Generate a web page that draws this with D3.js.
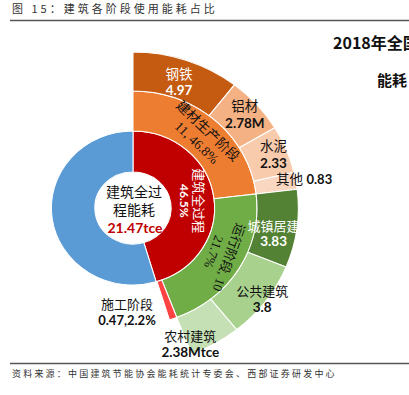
<!DOCTYPE html>
<html><head><meta charset="utf-8">
<script src="https://cdn.jsdelivr.net/npm/d3@7"></script>
<style>body{margin:0;background:#fff;overflow:hidden}svg{display:block}</style>
</head><body>
<svg id="chart" width="409" height="395"></svg>
<script>
// ---------- data ----------
const innerNames  = ["建筑全过程", "其余"];
const innerValues = [21.47, 25.8];
const innerShare  = ["46.5%", ""];

const stageNames  = ["建材生产阶段", "运行阶段", "施工阶段"];
const stageValues = [10.91, 10.01, 0.47];
const stageTexts  = ["11, 46.8%", "10", "0.47,2.2%"];
const stageShares = ["46.8%", "21.7%", "2.2%"];

const materialNames  = ["钢铁", "铝材", "水泥", "其他"];
const materialValues = [4.97, 2.78, 2.33, 0.83];
const materialTexts  = ["4.97", "2.78M", "2.33", "0.83"];

const operationNames  = ["城镇居建", "公共建筑", "农村建筑"];
const operationValues = [3.83, 3.8, 2.38];
const operationTexts  = ["3.83", "3.8", "2.38Mtce"];

const totalText = "21.47tce";

// ---------- layout ----------
const svg = d3.select("#chart");
const cx = 133, cy = 208, sx = 1.06;
const R0 = 36, R1 = 77, R2 = 117, R3 = 156;
const total = d3.sum(innerValues);
const ang = d3.scaleLinear().domain([0, total]).range([0, 2 * Math.PI]);

const CJK = "'Noto Sans CJK SC', sans-serif";
const SERIF = "'Liberation Serif', 'Noto Sans CJK SC', serif";
const NUM = "Lato, 'Open Sans', sans-serif";

// title and rules
svg.append("text").attr("x", 12).attr("y", 13).attr("font-family", CJK)
  .attr("font-size", 11).attr("letter-spacing", 3).attr("fill", "#333")
  .text("图 15：建筑各阶段使用能耗占比");
svg.append("line").attr("x1", 10).attr("x2", 409).attr("y1", 20.5).attr("y2", 20.5)
  .attr("stroke", "#555").attr("stroke-width", 1.3);
svg.append("line").attr("x1", 10).attr("x2", 409).attr("y1", 363.5).attr("y2", 363.5)
  .attr("stroke", "#555").attr("stroke-width", 1.3);
svg.append("text").attr("x", 12).attr("y", 377).attr("font-family", CJK)
  .attr("font-size", 9).attr("letter-spacing", 2.2).attr("fill", "#333")
  .text("资料来源：中国建筑节能协会能耗统计专委会、西部证券研发中心");
svg.append("text").attr("x", 333).attr("y", 49).attr("font-family", CJK)
  .attr("font-size", 16).attr("font-weight", 700).attr("fill", "#111")
  .text("2018年全国");
svg.append("text").attr("x", 377).attr("y", 86).attr("font-family", SERIF)
  .attr("font-size", 15).attr("font-weight", 700).attr("fill", "#111")
  .text("能耗");

// ---------- arcs ----------
function segs(values, names, colors, start) {
  let acc = start || 0;
  return values.map((v, i) => {
    const s = acc; acc += v;
    return {name: names[i], value: v, start: s, end: acc, color: colors[i]};
  });
}
const innerSegs = segs(innerValues, innerNames, ["#C00000", "#5B9BD5"]);
const stageSegs = segs(stageValues, stageNames, ["#ED7D31", "#70AD47", "#FF4343"]);
const matSegs = segs(materialValues, materialNames, ["#C55A11", "#F4B183", "#F8CBAD", "#F9D7C0"], 0);
const opSegs = segs(operationValues, operationNames, ["#548235", "#A9D18E", "#C5E0B4"], d3.sum(materialValues));

const g = svg.append("g").attr("transform", `translate(${cx},${cy}) scale(${sx},1)`);
function ring(data, r0, r1) {
  const arc = d3.arc().innerRadius(r0).outerRadius(r1)
    .startAngle(d => ang(d.start)).endAngle(d => ang(d.end));
  g.selectAll(null).data(data).enter().append("path")
    .attr("d", arc).attr("fill", d => d.color)
    .attr("stroke", "#fff").attr("stroke-width", 1);
}
ring(innerSegs, R0, R1);
ring(stageSegs, R1, R2);
ring(matSegs, R2, R3);
ring(opSegs, R2, R3);

// ---------- labels ----------
function polar(aDeg, r) {
  const a = aDeg * Math.PI / 180;
  return [cx + sx * r * Math.sin(a), cy - r * Math.cos(a)];
}
const midDeg = d => (ang((d.start + d.end) / 2)) * 180 / Math.PI;

function label(seg, dA, r, rot, lines) {
  const [x, y] = polar(midDeg(seg) + dA, r);
  const t = svg.append("g").attr("transform", `translate(${x},${y}) rotate(${rot})`);
  lines.forEach(l => {
    const tx = t.append("text").attr("text-anchor", "middle").attr("dominant-baseline", "central")
      .attr("y", l.dy).attr("fill", l.color);
    l.parts.forEach(p => tx.append("tspan").attr("font-family", p.font).attr("font-size", p.size)
      .attr("font-weight", p.weight || 400).text(p.text));
  });
}
const P = (text, font, size, weight) => ({text, font, size, weight});

// center
const cg = svg.append("g").attr("text-anchor", "middle");
cg.append("text").attr("x", cx + 1).attr("y", cy - 16).attr("dominant-baseline", "central")
  .attr("font-family", SERIF).attr("font-size", 14).attr("fill", "#111").text("建筑全过");
cg.append("text").attr("x", cx + 1).attr("y", cy + 2).attr("dominant-baseline", "central")
  .attr("font-family", SERIF).attr("font-size", 14).attr("fill", "#111").text("程能耗");
cg.append("text").attr("x", cx + 2).attr("y", cy + 19).attr("dominant-baseline", "central")
  .attr("font-family", NUM).attr("font-size", 14).attr("font-weight", 700).attr("fill", "#C00000").text(totalText);

// inner red
label(innerSegs[0], 1, 57, 90, [
  {dy: -7, color: "#fff", parts: [P(innerNames[0], CJK, 13)]},
  {dy: 8, color: "#fff", parts: [P(innerShare[0], NUM, 12, 700)]}
]);
// stages
label(stageSegs[0], 1, 97, 43.5, [
  {dy: -8, color: "#111", parts: [P(stageNames[0], SERIF, 13.5)]},
  {dy: 8, color: "#111", parts: [P(stageTexts[0], SERIF, 13.5)]}
]);
label(stageSegs[1], -2, 96, 110, [
  {dy: -8, color: "#111", parts: [P(stageNames[1] + ", " + stageTexts[1], SERIF, 13)]},
  {dy: 8, color: "#111", parts: [P(stageShares[1], SERIF, 13)]}
]);
label(stageSegs[2], 22, 104, 0, [
  {dy: -8, color: "#111", parts: [P(stageNames[2], SERIF, 13)]},
  {dy: 8, color: "#111", parts: [P(stageTexts[2], NUM, 13, 700)]}
]);
// materials
const wht = ["#fff", "#111", "#111", "#111"];
const matR = [134, 141, 143];
matSegs.slice(0, 3).forEach((s, i) => label(s, 0, matR[i], 0, [
  {dy: -8, color: wht[i], parts: [P(s.name, i ? SERIF : CJK, 13.5)]},
  {dy: 8.5, color: wht[i], parts: [P(materialTexts[i], NUM, 13.5, 700)]}
]));
label(matSegs[3], 0, 164, 0, [
  {dy: 0, color: "#111", parts: [P(matSegs[3].name + " ", SERIF, 13.5), P(materialTexts[3], NUM, 13, 700)]}
]);
// operations
const opLay = [[3, 135, "#fff", CJK], [0, 152, "#111", SERIF], [8, 146, "#111", SERIF]];
opSegs.forEach((s, i) => label(s, opLay[i][0], opLay[i][1], 0, [
  {dy: -8, color: opLay[i][2], parts: [P(s.name, opLay[i][3], 13)]},
  {dy: 8, color: opLay[i][2], parts: [P(operationTexts[i], NUM, 13.5, 700)]}
]));
</script>
</body></html>
